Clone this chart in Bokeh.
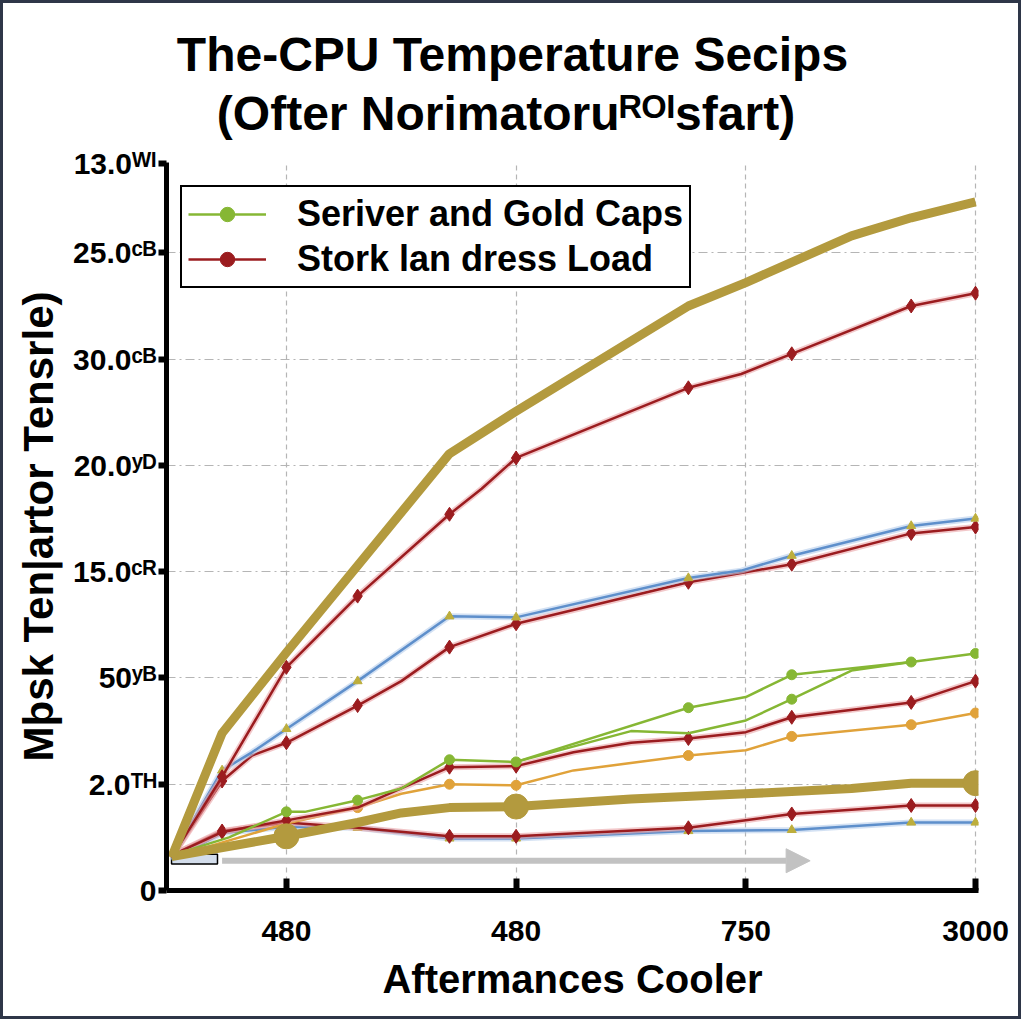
from bokeh.plotting import figure
from bokeh.models import (FixedTicker, Title, Legend, LegendItem, Arrow, NormalHead, Range1d)
from bokeh.embed import file_html
from bokeh.resources import INLINE

# ---------------- data ----------------
title_lines = ["The-CPU Temperature Secips", "(Ofter Norimatoruᴿᴼᴵsfart)"]
x_label = "Aftermances Cooler"
y_label = "Mþsk Ten|artor Tensrle)"

x_ticks = [1, 2, 3, 4]
x_tick_labels = ["480", "480", "750", "3000"]
y_ticks = [0, 1, 2, 3, 4, 5, 6, 6.84]
y_tick_labels = ["0", "2.0ᵀᴴ", "50ʸᴮ", "15.0ᶜᴿ", "20.0ʸᴰ", "30.0ᶜᴮ", "25.0ᶜᴮ", "13.0ᵂᴵ"]
legend_labels = ["Seriver and Gold Caps", "Stork lan dress Load"]

gold_top_x = [0.5, 0.72, 1.0, 1.71, 2.0, 2.75, 3.0, 3.46, 3.72, 4.0]
gold_top_y = [0.31, 1.48, 2.24, 4.11, 4.51, 5.50, 5.72, 6.16, 6.33, 6.48]

red_top_x = [0.5, 0.72, 1.0, 1.31, 1.71, 1.85, 2.0, 2.75, 2.98, 3.2, 3.72, 4.0]
red_top_y = [0.31, 1.07, 2.10, 2.77, 3.54, 3.78, 4.07, 4.73, 4.86, 5.05, 5.50, 5.62]
red_top_marks = [1, 2, 3, 4, 6, 7, 9, 10, 11]

blue_top_x = [0.5, 0.72, 0.85, 1.0, 1.31, 1.71, 2.0, 2.75, 2.98, 3.2, 3.72, 4.0]
blue_top_y = [0.31, 1.13, 1.30, 1.52, 1.97, 2.58, 2.57, 2.94, 3.01, 3.15, 3.43, 3.50]
blue_top_marks = [1, 3, 4, 5, 6, 7, 9, 10, 11]

red_mid_x = [0.5, 0.72, 0.85, 1.0, 1.31, 1.5, 1.71, 2.0, 2.75, 3.2, 3.72, 4.0]
red_mid_y = [0.31, 1.03, 1.27, 1.39, 1.74, 1.97, 2.29, 2.51, 2.90, 3.07, 3.36, 3.42]
red_mid_marks = [1, 3, 4, 6, 7, 8, 9, 10, 11]

green_a_x = [0.5, 0.75, 1.0, 1.08, 1.31, 1.5, 1.71, 2.0, 2.75, 3.0, 3.2, 3.72, 4.0]
green_a_y = [0.33, 0.50, 0.74, 0.74, 0.85, 0.96, 1.23, 1.21, 1.72, 1.82, 2.03, 2.15, 2.23]
green_a_marks = [2, 4, 6, 7, 8, 10, 11, 12]

green_b_x = [2.0, 2.5, 2.75, 3.0, 3.2, 3.46, 3.72]
green_b_y = [1.21, 1.50, 1.48, 1.60, 1.80, 2.07, 2.15]
green_b_marks = [4]

red_low2_x = [0.5, 0.72, 1.0, 1.31, 1.5, 1.71, 2.0, 2.25, 2.5, 2.75, 3.0, 3.2, 3.72, 4.0]
red_low2_y = [0.33, 0.55, 0.66, 0.78, 0.96, 1.16, 1.17, 1.30, 1.39, 1.43, 1.49, 1.63, 1.77, 1.97]
red_low2_marks = [1, 2, 5, 6, 9, 11, 12, 13]

orange_x = [0.5, 1.0, 1.31, 1.5, 1.71, 2.0, 2.25, 2.75, 3.0, 3.2, 3.72, 4.0]
orange_y = [0.31, 0.63, 0.78, 0.91, 1.00, 0.99, 1.13, 1.27, 1.32, 1.45, 1.56, 1.67]
orange_marks = [2, 4, 5, 7, 9, 10, 11]

gold_low_x = [0.5, 1.0, 1.31, 1.5, 1.71, 2.0, 2.5, 3.0, 3.46, 3.72, 4.0]
gold_low_y = [0.32, 0.51, 0.64, 0.73, 0.78, 0.79, 0.86, 0.91, 0.96, 1.01, 1.01]
gold_low_marks = [1, 5, 10]

red_low_x = [0.5, 0.72, 1.0, 1.31, 1.71, 2.0, 2.75, 3.0, 3.2, 3.72, 4.0]
red_low_y = [0.33, 0.56, 0.64, 0.59, 0.51, 0.51, 0.59, 0.66, 0.72, 0.80, 0.80]
red_low_marks = [1, 4, 5, 6, 8, 9, 10]

blue_low_x = [0.5, 0.72, 1.0, 1.31, 1.71, 2.0, 2.75, 3.2, 3.72, 4.0]
blue_low_y = [0.29, 0.54, 0.60, 0.59, 0.49, 0.49, 0.56, 0.57, 0.64, 0.64]
blue_low_marks = [2, 3, 4, 5, 6, 7, 8, 9]

arrow_x = [0.72, 3.28]
arrow_y = [0.28, 0.28]
box_x = [0.5, 0.70]
box_y = [0.25, 0.34]

# legend-only proxies (kept off the visible range)
legend_proxy_x = [-5.0]
legend_proxy_y = [-5.0]

# ---------------- style ----------------
FONT = "Liberation Sans"
GOLD = "#B39A3E"
RED = "#9B1C1F"
RED_HALO = "#E9A3A6"
BLUE = "#5E8FCB"
BLUE_HALO = "#B5CDEB"
GREEN = "#86B734"
ORANGE = "#E0A23A"
TRI = "#BDAE3C"
ARROW = "#C2C2C2"
X0, X1 = 0.478, 4.013
NB = "\u00a0"
# pads so that the centred title block sits over the whole figure, line 2 centred under line 1
title_text = title_lines[0] + NB * 9 + "\n" + NB * 3 + title_lines[1]

p = figure(frame_width=812, frame_height=728, x_range=Range1d(X0, X1), y_range=Range1d(0, 6.85),
           output_backend="svg", toolbar_location=None, title=None,
           min_border_left=163, min_border_right=40, min_border_top=159, min_border_bottom=126)
p.styles = {"border": "3px solid #2E3648"}
p.outline_line_color = None
p.background_fill_color = "white"
p.border_fill_color = "white"

p.add_layout(Title(text=title_text, align="center",
                   text_font=FONT, text_font_size="48px", text_font_style="bold",
                   text_color="black", text_line_height=1.12, standoff=44), "above")

# grids
p.xgrid.ticker = FixedTicker(ticks=x_ticks)
p.xgrid.grid_line_color = "#B5B5B5"
p.xgrid.grid_line_dash = "5 4"
p.xgrid.grid_line_width = 1.2
p.ygrid.ticker = FixedTicker(ticks=y_ticks[1:7])
p.ygrid.grid_line_color = "#B5B5B5"
p.ygrid.grid_line_dash = "9 4 2 4"
p.ygrid.grid_line_width = 1.2

# axes
xa = p.xaxis[0]
xa.ticker = FixedTicker(ticks=x_ticks)
xa.major_label_overrides = dict(zip(x_ticks, x_tick_labels))
xa.axis_label = x_label
ya = p.yaxis[0]
ya.ticker = FixedTicker(ticks=y_ticks)
ya.major_label_overrides = dict(zip(y_ticks, y_tick_labels))
ya.axis_label = y_label
for ax in (xa, ya):
    ax.axis_line_width = 5
    ax.axis_line_color = "black"
    ax.major_tick_line_width = 6
    ax.major_tick_line_color = "black"
    ax.minor_tick_line_color = None
    ax.major_label_text_font = FONT
    ax.major_label_text_font_style = "bold"
    ax.major_label_text_color = "black"
    ax.axis_label_text_font = FONT
    ax.axis_label_text_font_style = "bold"
    ax.axis_label_text_color = "black"
xa.major_tick_in = 12
xa.major_tick_out = 0
xa.major_label_standoff = 30
xa.major_label_text_font_size = "30px"
xa.axis_label_text_font_size = "40px"
xa.axis_label_standoff = 13
ya.major_tick_in = 0
ya.major_tick_out = 8
ya.major_label_standoff = 2
ya.major_label_text_font_size = "30px"
ya.axis_label_text_font_size = "42px"
ya.axis_label_standoff = 8

# arrow and small box
p.quad(left=box_x[0], right=box_x[1], bottom=box_y[0], top=box_y[1],
       fill_color="#D3DDEB", line_color="black", line_width=1.5)
p.add_layout(Arrow(end=NormalHead(size=24, fill_color=ARROW, line_color=ARROW),
                   x_start=arrow_x[0], y_start=arrow_y[0], x_end=arrow_x[1], y_end=arrow_y[1],
                   line_color=ARROW, line_width=6))


def series(xs, ys, color, width, marks=None, marker="circle", msize=10, mcolor=None, halo=None):
    if halo:
        p.line(xs, ys, line_color=halo, line_width=width + 3.5, line_alpha=0.6)
    p.line(xs, ys, line_color=color, line_width=width, line_join="round")
    if marks:
        mx = [xs[i] for i in marks]
        my = [ys[i] for i in marks]
        mc = mcolor or color
        p.scatter(mx, my, marker=marker, size=msize, fill_color=mc, line_color=mc)


series(blue_low_x, blue_low_y, BLUE, 2.5, blue_low_marks, "triangle", 9, TRI, BLUE_HALO)
series(red_low_x, red_low_y, RED, 2.5, red_low_marks, "diamond", 14, RED, RED_HALO)
series(orange_x, orange_y, ORANGE, 2.5, orange_marks, "circle", 10, ORANGE)
series(red_low2_x, red_low2_y, RED, 2.5, red_low2_marks, "diamond", 14, RED, RED_HALO)
series(green_b_x, green_b_y, GREEN, 2.5, green_b_marks, "circle", 10, GREEN)
series(green_a_x, green_a_y, GREEN, 2.5, green_a_marks, "circle", 10, GREEN)
series(red_mid_x, red_mid_y, RED, 2.5, red_mid_marks, "diamond", 14, RED, RED_HALO)
series(blue_top_x, blue_top_y, BLUE, 2.5, blue_top_marks, "triangle", 9, TRI, BLUE_HALO)
series(red_top_x, red_top_y, RED, 2.5, red_top_marks, "diamond", 14, RED, RED_HALO)
series(gold_low_x, gold_low_y, GOLD, 9, gold_low_marks, "circle", 25, GOLD)
series(gold_top_x, gold_top_y, GOLD, 9)

# legend proxies
lg_line = p.line(legend_proxy_x, legend_proxy_y, line_color=GREEN, line_width=2.5)
lg_pt = p.scatter(legend_proxy_x, legend_proxy_y, marker="circle", size=11,
                  fill_color=GREEN, line_color=GREEN)
lr_line = p.line(legend_proxy_x, legend_proxy_y, line_color=RED, line_width=2.5)
lr_pt = p.scatter(legend_proxy_x, legend_proxy_y, marker="circle", size=12,
                  fill_color=RED, line_color=RED)

legend = Legend(items=[LegendItem(label=legend_labels[0], renderers=[lg_line, lg_pt]),
                       LegendItem(label=legend_labels[1], renderers=[lr_line, lr_pt])],
                location=(14, 602), padding=6, spacing=3,
                label_text_font=FONT, label_text_font_size="36px", label_text_font_style="bold",
                label_text_color="black", glyph_width=78, glyph_height=36, label_standoff=31,
                label_height=36,
                border_line_color="black", border_line_width=2, border_line_alpha=1.0,
                background_fill_color="white", background_fill_alpha=1.0)
p.add_layout(legend)

open("out.html", "w").write(file_html(p, INLINE))
